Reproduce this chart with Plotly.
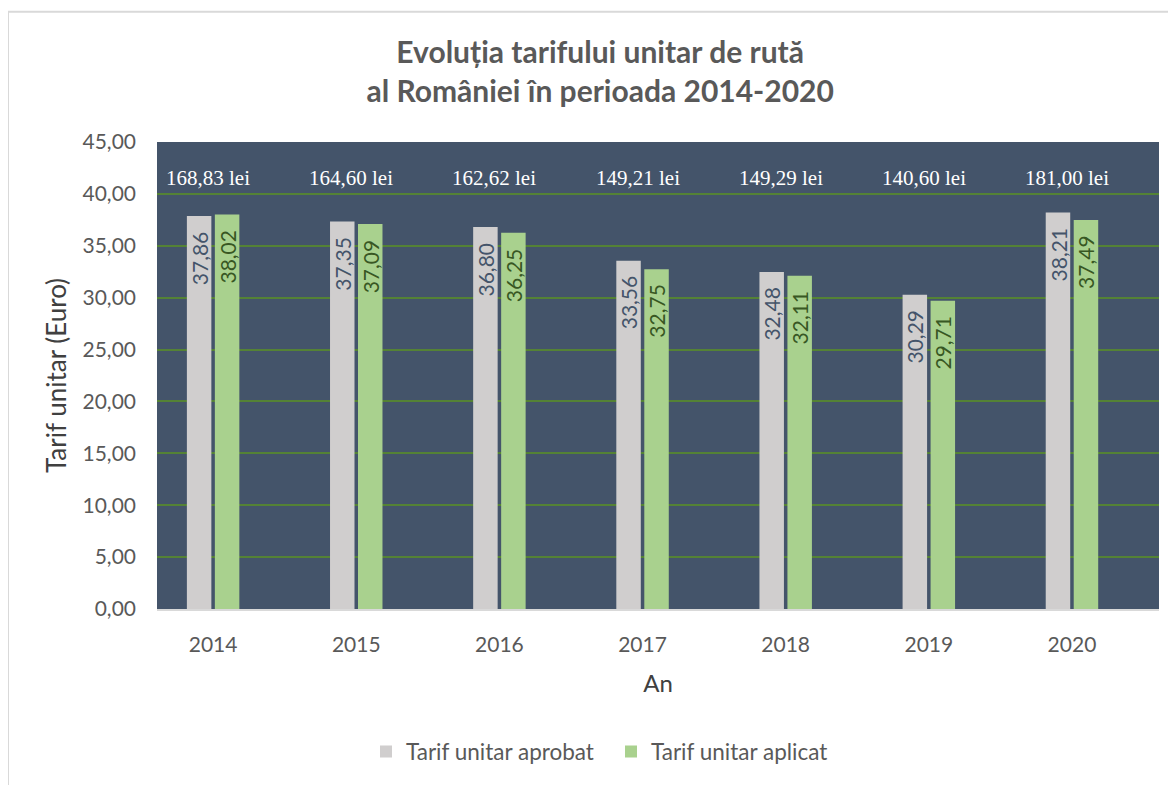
import plotly.graph_objects as go

years = ["2014", "2015", "2016", "2017", "2018", "2019", "2020"]
aprobat = [37.86, 37.35, 36.80, 33.56, 32.48, 30.29, 38.21]
aplicat = [38.02, 37.09, 36.25, 32.75, 32.11, 29.71, 37.49]
lei_labels = ["168,83 lei", "164,60 lei", "162,62 lei", "149,21 lei",
              "149,29 lei", "140,60 lei", "181,00 lei"]
y_ticks = [0, 5, 10, 15, 20, 25, 30, 35, 40, 45]

GREY = "#D0CECE"
GREEN = "#A9D18E"
TXT = "#595959"
FONT = "Lato"

W, H = 1168, 777
L, T, R, B = 149, 134, 17, 173
PW, PH = W - L - R, H - T - B

def fmt(v):
    return f"{v:.2f}".replace(".", ",")

fig = go.Figure()
fig.add_trace(go.Bar(x=years, y=aprobat, name="Tarif unitar aprobat",
                     marker=dict(color=GREY, line=dict(width=0))))
fig.add_trace(go.Bar(x=years, y=aplicat, name="Tarif unitar aplicat",
                     marker=dict(color=GREEN, line=dict(width=0))))

annotations = []
for i, yr in enumerate(years):
    annotations.append(dict(x=i, y=aprobat[i], xref="x", yref="y", text=fmt(aprobat[i]),
                            textangle=-90, showarrow=False, xanchor="center", yanchor="top",
                            xshift=-14, yshift=-13,
                            font=dict(family=FONT, size=21, color="#44546A")))
    annotations.append(dict(x=i, y=aplicat[i], xref="x", yref="y", text=fmt(aplicat[i]),
                            textangle=-90, showarrow=False, xanchor="center", yanchor="top",
                            xshift=14, yshift=-13,
                            font=dict(family=FONT, size=21, color="#385723")))
    annotations.append(dict(x=i, y=0.923, xref="x", yref="paper", text=lei_labels[i],
                            showarrow=False, xanchor="center", yanchor="middle", xshift=-5,
                            font=dict(family="Liberation Serif", size=21, color="#FFFFFF")))

fig.update_layout(
    width=W, height=H,
    margin=dict(l=L, r=R, t=T, b=B),
    paper_bgcolor="white",
    plot_bgcolor="#44546A",
    separators=", ",
    barmode="group",
    bargap=0.609,
    bargroupgap=0.125,
    font=dict(family=FONT, size=21, color=TXT),
    title=dict(text="<b>Evoluția tarifului unitar de rută<br>al României în perioada 2014-2020</b>",
               x=0.507, xanchor="center", xref="container",
               y=1 - 55 / H, yanchor="middle", yref="container",
               font=dict(family=FONT, size=30, color=TXT)),
    xaxis=dict(type="category", range=[-0.392, 6.608], showgrid=False,
               showline=True, linecolor="#D9D9D9", linewidth=2,
               ticks="", ticklabelstandoff=16,
               tickfont=dict(family=FONT, size=21, color=TXT),
               title=dict(text="An", standoff=20,
                          font=dict(family=FONT, size=24, color="#404040"))),
    yaxis=dict(range=[0, 45], tickvals=y_ticks, tickformat=".2f",
               showgrid=True, gridcolor="#548235", gridwidth=2,
               zeroline=False, showline=False, ticks="", ticklabelstandoff=20,
               tickfont=dict(family=FONT, size=21, color=TXT),
               title=dict(text="Tarif unitar (Euro)", standoff=8,
                          font=dict(family=FONT, size=26, color="#404040"))),
    legend=dict(orientation="h", x=(358 - L) / PW, xanchor="left", y=-0.306, yanchor="middle",
                font=dict(family=FONT, size=22.5, color=TXT), traceorder="normal",
                entrywidth=200, entrywidthmode="pixels",
                bgcolor="rgba(0,0,0,0)"),
    annotations=annotations,
    shapes=[dict(type="rect", xref="paper", yref="paper",
                 x0=(0 - L) / PW, x1=1.1, y0=-0.5, y1=(PH + T - 3) / PH,
                 line=dict(color="#D9D9D9", width=2), fillcolor="rgba(0,0,0,0)",
                 layer="below")],
)

fig.write_html("out.html")
